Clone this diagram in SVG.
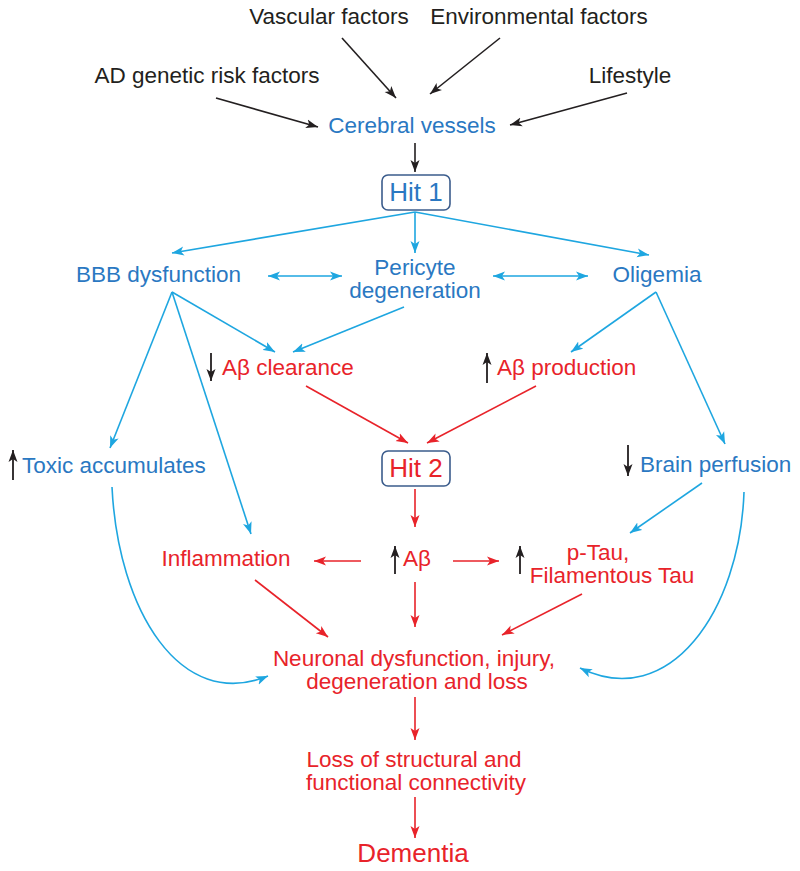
<svg xmlns="http://www.w3.org/2000/svg" width="800" height="871" viewBox="0 0 800 871">
<style>
text{font-family:"Liberation Sans",Arial,sans-serif;font-size:22.5px;text-anchor:middle}
.s{text-anchor:start}
.k{fill:#231f20}.b{fill:#2a78c2}.r{fill:#e8232a}
.lk{stroke:#231f20;stroke-width:1.6;fill:none;marker-end:url(#ak)}
.lb{stroke:#1ea6e0;stroke-width:1.6;fill:none;marker-end:url(#ab)}
.lbb{stroke:#1ea6e0;stroke-width:1.6;fill:none;marker-end:url(#ab);marker-start:url(#abs)}
.lr{stroke:#e8232a;stroke-width:1.6;fill:none;marker-end:url(#ar)}
.box{fill:#fff;stroke:#3b5c8c;stroke-width:1.6}
.hit{font-size:26px}
.ua{stroke:#231f20;stroke-width:1.8;fill:none;marker-end:url(#ak)}
</style>
<defs>
<marker id="ak" markerUnits="userSpaceOnUse" markerWidth="14" markerHeight="10" refX="12" refY="5" orient="auto"><path d="M0,0.5 L12,5 L0,9.5 L3,5 z" fill="#231f20"/></marker>
<marker id="ab" markerUnits="userSpaceOnUse" markerWidth="14" markerHeight="10" refX="12" refY="5" orient="auto"><path d="M0,0.5 L12,5 L0,9.5 L3,5 z" fill="#1ea6e0"/></marker>
<marker id="abs" markerUnits="userSpaceOnUse" markerWidth="14" markerHeight="10" refX="12" refY="5" orient="auto-start-reverse"><path d="M0,0.5 L12,5 L0,9.5 L3,5 z" fill="#1ea6e0"/></marker>
<marker id="ar" markerUnits="userSpaceOnUse" markerWidth="14" markerHeight="10" refX="12" refY="5" orient="auto"><path d="M0,0.5 L12,5 L0,9.5 L3,5 z" fill="#e8232a"/></marker>
</defs>
<g id="connectors">
<line class="lk" x1="342" y1="38" x2="396" y2="98"/>
<line class="lk" x1="500" y1="38" x2="430" y2="94"/>
<line class="lk" x1="216" y1="98" x2="318" y2="127"/>
<line class="lk" x1="627" y1="93" x2="510" y2="125"/>
<line class="lk" x1="415" y1="143" x2="415" y2="172"/>
<line class="lb" x1="415" y1="212" x2="172" y2="253"/>
<line class="lb" x1="415" y1="212" x2="415" y2="253"/>
<line class="lb" x1="415" y1="212" x2="649" y2="255"/>
<line class="lbb" x1="268" y1="276" x2="342" y2="276"/>
<line class="lbb" x1="493" y1="276" x2="588" y2="276"/>
<line class="lb" x1="172" y1="292" x2="275" y2="352"/>
<line class="lb" x1="172" y1="292" x2="110" y2="448"/>
<line class="lb" x1="172" y1="292" x2="251" y2="534"/>
<line class="lb" x1="404" y1="307" x2="293" y2="352"/>
<line class="lb" x1="656" y1="292" x2="571" y2="352"/>
<line class="lb" x1="656" y1="292" x2="725" y2="444"/>
<line class="lr" x1="306" y1="386" x2="408" y2="443"/>
<line class="lr" x1="536" y1="386" x2="427" y2="443"/>
<line class="lr" x1="415" y1="489" x2="415" y2="527"/>
<line class="lr" x1="361" y1="561" x2="314" y2="561"/>
<line class="lr" x1="453" y1="561" x2="499" y2="561"/>
<line class="lb" x1="702" y1="483" x2="630" y2="533"/>
<line class="lr" x1="415" y1="582" x2="415" y2="627"/>
<line class="lr" x1="255" y1="580" x2="328" y2="637"/>
<line class="lr" x1="582" y1="594" x2="502" y2="635"/>
<path class="lb" d="M112,487 C118,610 180,712 268,676"/>
<path class="lb" d="M744,492 C740,610 670,712 580,668"/>
<line class="lr" x1="415" y1="697" x2="415" y2="740"/>
<line class="lr" x1="415" y1="797" x2="415" y2="838"/>
</g>
<g id="vascular"><text class="k" x="329" y="24">Vascular factors</text></g>
<g id="environmental"><text class="k" x="539" y="24">Environmental factors</text></g>
<g id="adgenetic"><text class="k" x="207" y="83">AD genetic risk factors</text></g>
<g id="lifestyle"><text class="k" x="630" y="83">Lifestyle</text></g>
<g id="cerebral"><text class="b" x="412" y="133">Cerebral vessels</text></g>
<g id="hit1"><rect class="box" x="382" y="175" width="68" height="35" rx="6"/><text class="b hit" x="416" y="201">Hit 1</text></g>
<g id="bbb"><text class="b" x="158.5" y="282">BBB dysfunction</text></g>
<g id="pericyte"><text class="b" x="415" y="275">Pericyte</text><text class="b" x="415" y="298">degeneration</text></g>
<g id="oligemia"><text class="b" x="657" y="282">Oligemia</text></g>
<g id="abclear"><line class="ua" x1="211" y1="353" x2="211" y2="381"/><text class="r s" x="222" y="375">Aβ clearance</text></g>
<g id="abprod"><line class="ua" x1="487" y1="383" x2="487" y2="353"/><text class="r s" x="497" y="375">Aβ production</text></g>
<g id="toxic"><line class="ua" x1="13" y1="480" x2="13" y2="450"/><text class="b s" x="22" y="473">Toxic accumulates</text></g>
<g id="hit2"><rect class="box" x="382" y="451" width="68" height="35" rx="6"/><text class="r hit" x="416" y="477">Hit 2</text></g>
<g id="brainperf"><line class="ua" x1="628" y1="445" x2="628" y2="476"/><text class="b s" x="640" y="472">Brain perfusion</text></g>
<g id="inflammation"><text class="r" x="226" y="566">Inflammation</text></g>
<g id="abeta"><line class="ua" x1="395" y1="574" x2="395" y2="546"/><text class="r s" x="403" y="566">Aβ</text></g>
<g id="ptau"><line class="ua" x1="520" y1="574" x2="520" y2="546"/><text class="r" x="598" y="560">p-Tau,</text><text class="r" x="612" y="583">Filamentous Tau</text></g>
<g id="neuronal"><text class="r" x="414" y="666">Neuronal dysfunction, injury,</text><text class="r" x="417" y="689">degeneration and loss</text></g>
<g id="loss"><text class="r" x="414" y="767">Loss of structural and</text><text class="r" x="416" y="790">functional connectivity</text></g>
<g id="dementia"><text class="r" x="413" y="862" style="font-size:26px">Dementia</text></g>
</svg>
